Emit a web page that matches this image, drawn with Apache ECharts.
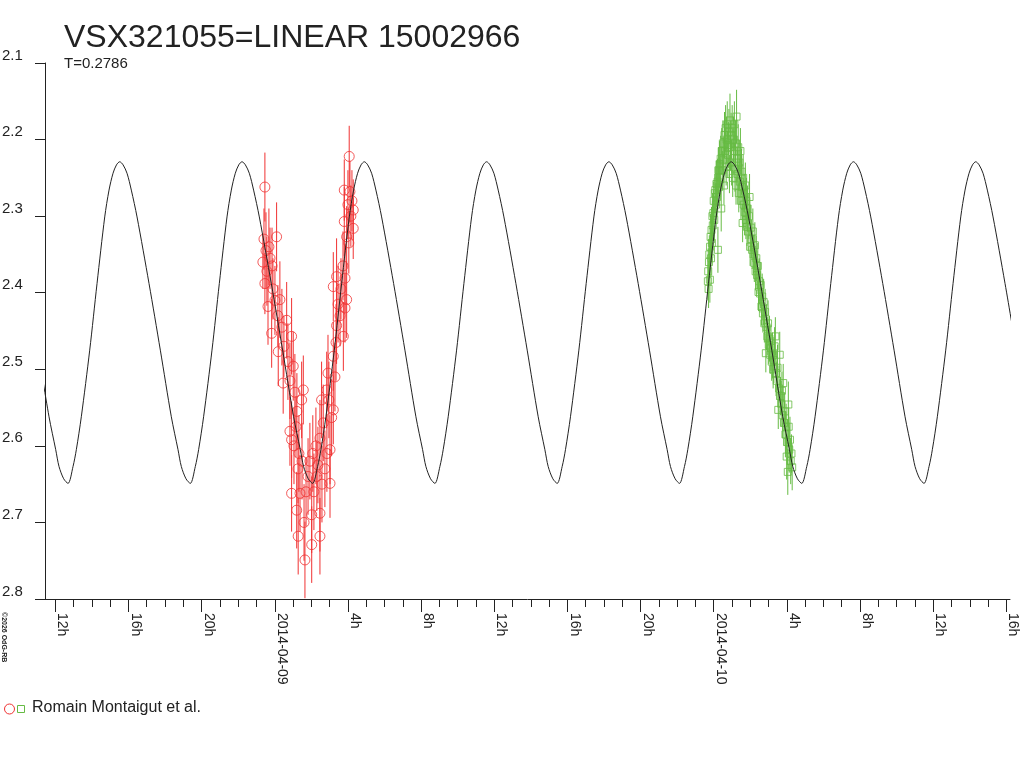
<!DOCTYPE html>
<html>
<head>
<meta charset="utf-8">
<script src="https://cdn.jsdelivr.net/npm/echarts@6/dist/echarts.min.js"></script>
<style>
  html, body { margin: 0; padding: 0; background: #fff; }
  #chart { width: 1024px; height: 768px; }
</style>
</head>
<body>
<div id="chart"></div>
<script>
// time is in hours from 2014-04-09 00:00
const titleText = 'VSX321055=LINEAR 15002966'
const periodText = 'T=0.2786'
const observer = 'Romain Montaigut et al.'

const majorTicks = [-12, -8, -4, 0, 4, 8, 12, 16, 20, 24, 28, 32, 36, 40]
const dateLabels = { 0: '2014-04-09', 24: '2014-04-10' }

// fitted light curve
const curveTime = [
  -12.944, -12.343, -11.977, -11.796, -11.541,
  -11.304, -11.031, -10.850, -10.577, -10.118, -9.718, -9.297, -9.062, -8.844, -8.654, -8.477,
  -8.294, -8.078, -7.843, -7.531, -6.875, -6.257, -5.656, -5.290, -5.109, -4.854,
  -4.618, -4.345, -4.164, -3.891, -3.432, -3.032, -2.611, -2.376, -2.158, -1.968, -1.791,
  -1.608, -1.392, -1.157, -0.845, -0.189, 0.429, 1.030, 1.396, 1.577, 1.832,
  2.069, 2.342, 2.523, 2.796, 3.255, 3.655, 4.076, 4.311, 4.529, 4.719, 4.896,
  5.079, 5.295, 5.530, 5.842, 6.498, 7.116, 7.717, 8.083, 8.264, 8.519,
  8.755, 9.028, 9.209, 9.482, 9.941, 10.341, 10.762, 10.997, 11.215, 11.405, 11.582,
  11.765, 11.981, 12.216, 12.528, 13.184, 13.802, 14.403, 14.769, 14.950, 15.205,
  15.441, 15.714, 15.895, 16.168, 16.627, 17.027, 17.448, 17.683, 17.901, 18.091, 18.268,
  18.451, 18.667, 18.902, 19.214, 19.870, 20.488, 21.089, 21.455, 21.636, 21.891,
  22.128, 22.401, 22.582, 22.855, 23.314, 23.714, 24.135, 24.370, 24.588, 24.778, 24.955,
  25.138, 25.354, 25.589, 25.901, 26.557, 27.175, 27.776, 28.142, 28.323, 28.578,
  28.814, 29.087, 29.268, 29.541, 30.000, 30.400, 30.821, 31.056, 31.274, 31.464, 31.641,
  31.824, 32.040, 32.275, 32.587, 33.243, 33.861, 34.462, 34.828, 35.009, 35.264,
  35.500, 35.773, 35.954, 36.227, 36.686, 37.086, 37.507, 37.742, 37.960, 38.150, 38.327,
  38.510, 38.726, 38.961, 39.273, 39.929, 40.547
]
const curveMag = [
  2.475, 2.562, 2.605, 2.627, 2.643,
  2.649, 2.627, 2.605, 2.562, 2.475, 2.388, 2.301, 2.266, 2.244, 2.233, 2.229,
  2.233, 2.244, 2.266, 2.301, 2.388, 2.475, 2.562, 2.605, 2.627, 2.643,
  2.649, 2.627, 2.605, 2.562, 2.475, 2.388, 2.301, 2.266, 2.244, 2.233, 2.229,
  2.233, 2.244, 2.266, 2.301, 2.388, 2.475, 2.562, 2.605, 2.627, 2.643,
  2.649, 2.627, 2.605, 2.562, 2.475, 2.388, 2.301, 2.266, 2.244, 2.233, 2.229,
  2.233, 2.244, 2.266, 2.301, 2.388, 2.475, 2.562, 2.605, 2.627, 2.643,
  2.649, 2.627, 2.605, 2.562, 2.475, 2.388, 2.301, 2.266, 2.244, 2.233, 2.229,
  2.233, 2.244, 2.266, 2.301, 2.388, 2.475, 2.562, 2.605, 2.627, 2.643,
  2.649, 2.627, 2.605, 2.562, 2.475, 2.388, 2.301, 2.266, 2.244, 2.233, 2.229,
  2.233, 2.244, 2.266, 2.301, 2.388, 2.475, 2.562, 2.605, 2.627, 2.643,
  2.649, 2.627, 2.605, 2.562, 2.475, 2.388, 2.301, 2.266, 2.244, 2.233, 2.229,
  2.233, 2.244, 2.266, 2.301, 2.388, 2.475, 2.562, 2.605, 2.627, 2.643,
  2.649, 2.627, 2.605, 2.562, 2.475, 2.388, 2.301, 2.266, 2.244, 2.233, 2.229,
  2.233, 2.244, 2.266, 2.301, 2.388, 2.475, 2.562, 2.605, 2.627, 2.643,
  2.649, 2.627, 2.605, 2.562, 2.475, 2.388, 2.301, 2.266, 2.244, 2.233, 2.229,
  2.233, 2.244, 2.266, 2.301, 2.388, 2.475
]

// night 1 (red circles): [hour, mag, error]
const redObs = [
  [-0.54, 2.262, 0.045], [-0.59, 2.330, 0.04], [-0.48, 2.345, 0.05], [-0.65, 2.360, 0.035],
  [-0.43, 2.372, 0.045], [-0.54, 2.388, 0.04], [-0.32, 2.340, 0.05], [-0.26, 2.355, 0.04],
  [-0.15, 2.365, 0.05], [0.10, 2.327, 0.045], [-0.37, 2.418, 0.05], [-0.10, 2.395, 0.04],
  [0.01, 2.410, 0.045], [0.28, 2.409, 0.05], [0.17, 2.430, 0.04], [-0.17, 2.453, 0.045],
  [0.39, 2.445, 0.05], [0.65, 2.436, 0.05], [0.50, 2.470, 0.04], [0.19, 2.477, 0.045],
  [0.92, 2.457, 0.05], [0.72, 2.490, 0.05], [1.01, 2.496, 0.045], [0.46, 2.518, 0.04],
  [0.83, 2.515, 0.05], [1.10, 2.530, 0.05], [1.56, 2.527, 0.045], [1.47, 2.540, 0.05],
  [1.21, 2.555, 0.05], [0.83, 2.581, 0.045], [0.92, 2.592, 0.05], [1.05, 2.600, 0.05],
  [1.16, 2.575, 0.04], [1.32, 2.610, 0.05], [1.27, 2.630, 0.045], [1.49, 2.620, 0.05],
  [0.92, 2.662, 0.05], [1.38, 2.662, 0.05], [1.20, 2.684, 0.05], [1.28, 2.718, 0.05],
  [1.65, 2.749, 0.05], [1.60, 2.700, 0.05], [1.71, 2.660, 0.045], [1.82, 2.640, 0.05],
  [1.92, 2.620, 0.05], [2.02, 2.729, 0.05], [2.47, 2.718, 0.05], [2.02, 2.690, 0.05],
  [2.47, 2.688, 0.05], [2.14, 2.660, 0.05], [2.30, 2.640, 0.045], [2.08, 2.610, 0.05],
  [2.25, 2.600, 0.05], [2.36, 2.625, 0.05], [2.58, 2.650, 0.05], [3.02, 2.649, 0.045],
  [2.74, 2.630, 0.05], [2.85, 2.610, 0.05], [3.02, 2.605, 0.045], [2.65, 2.570, 0.05],
  [2.47, 2.590, 0.05], [3.11, 2.563, 0.05], [3.20, 2.553, 0.045], [2.56, 2.540, 0.05],
  [2.84, 2.527, 0.05], [2.96, 2.540, 0.05], [3.29, 2.510, 0.045], [2.91, 2.505, 0.05],
  [3.20, 2.483, 0.045], [3.35, 2.465, 0.05], [3.75, 2.457, 0.045], [3.38, 2.443, 0.05],
  [3.57, 2.430, 0.04], [3.84, 2.420, 0.045], [3.93, 2.409, 0.05], [3.46, 2.415, 0.05],
  [3.20, 2.392, 0.045], [3.84, 2.381, 0.045], [3.38, 2.379, 0.05], [3.62, 2.395, 0.04],
  [3.73, 2.365, 0.045], [3.93, 2.327, 0.04], [3.80, 2.307, 0.045], [4.29, 2.316, 0.04],
  [4.05, 2.335, 0.04], [4.16, 2.300, 0.04], [4.29, 2.292, 0.04], [4.00, 2.285, 0.045],
  [3.80, 2.266, 0.04], [4.11, 2.268, 0.04], [4.22, 2.280, 0.04], [4.07, 2.222, 0.04]
]

// night 2 (green squares): [hour, mag, error]
const greenObs = [
  [23.68, 2.385, 0.025], [23.70, 2.372, 0.03], [23.72, 2.395, 0.025], [23.74, 2.360, 0.03],
  [23.76, 2.350, 0.025], [23.79, 2.383, 0.03], [23.80, 2.340, 0.025], [23.83, 2.327, 0.03],
  [23.85, 2.355, 0.025], [23.88, 2.318, 0.03], [23.90, 2.335, 0.025], [23.93, 2.300, 0.03],
  [23.95, 2.312, 0.025], [23.98, 2.296, 0.03], [24.00, 2.280, 0.025], [24.03, 2.305, 0.03],
  [24.06, 2.270, 0.025], [24.09, 2.266, 0.03], [24.12, 2.285, 0.025], [24.15, 2.258, 0.03],
  [24.18, 2.275, 0.025], [24.21, 2.255, 0.03], [24.23, 2.344, 0.03], [24.26, 2.240, 0.03],
  [24.29, 2.262, 0.025], [24.32, 2.232, 0.03], [24.35, 2.250, 0.025], [24.38, 2.225, 0.03],
  [24.41, 2.290, 0.03], [24.44, 2.215, 0.03], [24.47, 2.240, 0.025], [24.50, 2.205, 0.03],
  [24.53, 2.227, 0.03], [24.56, 2.260, 0.025], [24.59, 2.194, 0.03], [24.62, 2.215, 0.03],
  [24.65, 2.185, 0.03], [24.68, 2.235, 0.025], [24.71, 2.200, 0.03], [24.74, 2.180, 0.03],
  [24.77, 2.220, 0.03], [24.80, 2.207, 0.03], [24.83, 2.190, 0.03], [24.86, 2.245, 0.025],
  [24.89, 2.175, 0.035], [24.92, 2.210, 0.03], [24.95, 2.195, 0.03], [24.98, 2.230, 0.03],
  [25.01, 2.185, 0.03], [25.04, 2.250, 0.025], [25.07, 2.200, 0.03], [25.10, 2.215, 0.03],
  [25.13, 2.180, 0.03], [25.16, 2.238, 0.03], [25.19, 2.205, 0.03], [25.22, 2.260, 0.025],
  [25.25, 2.170, 0.035], [25.28, 2.225, 0.03], [25.31, 2.245, 0.03], [25.34, 2.210, 0.03],
  [25.37, 2.270, 0.025], [25.40, 2.230, 0.03], [25.43, 2.255, 0.03], [25.46, 2.215, 0.03],
  [25.49, 2.280, 0.025], [25.52, 2.242, 0.03], [25.55, 2.262, 0.03], [25.58, 2.309, 0.025],
  [25.61, 2.250, 0.03], [25.64, 2.285, 0.03], [25.67, 2.270, 0.025], [25.70, 2.295, 0.03],
  [25.73, 2.260, 0.03], [25.76, 2.305, 0.025], [25.79, 2.280, 0.03], [25.82, 2.314, 0.025],
  [25.85, 2.290, 0.03], [25.88, 2.320, 0.025], [25.92, 2.300, 0.03], [25.96, 2.275, 0.03],
  [25.99, 2.340, 0.025], [26.02, 2.315, 0.03], [26.06, 2.330, 0.025], [26.10, 2.344, 0.025],
  [26.14, 2.320, 0.03], [26.18, 2.350, 0.025], [26.22, 2.361, 0.025], [26.25, 2.338, 0.03],
  [26.29, 2.372, 0.025], [26.33, 2.355, 0.03], [26.37, 2.377, 0.025], [26.41, 2.365, 0.03],
  [26.45, 2.399, 0.025], [26.49, 2.385, 0.03], [26.53, 2.401, 0.025], [26.57, 2.390, 0.03],
  [26.61, 2.418, 0.025], [26.65, 2.405, 0.03], [26.69, 2.427, 0.025], [26.73, 2.412, 0.03],
  [26.77, 2.440, 0.025], [26.81, 2.425, 0.03], [26.85, 2.479, 0.025], [26.89, 2.445, 0.03],
  [26.93, 2.457, 0.025], [26.97, 2.440, 0.03], [27.01, 2.468, 0.025], [27.05, 2.460, 0.03],
  [27.09, 2.481, 0.025], [27.13, 2.472, 0.03], [27.17, 2.490, 0.025], [27.21, 2.482, 0.03],
  [27.25, 2.500, 0.025], [27.29, 2.488, 0.03], [27.33, 2.470, 0.025], [27.37, 2.457, 0.025],
  [27.41, 2.505, 0.03], [27.45, 2.515, 0.025], [27.49, 2.498, 0.03], [27.53, 2.553, 0.025],
  [27.57, 2.525, 0.03], [27.61, 2.481, 0.03], [27.65, 2.535, 0.025], [27.69, 2.545, 0.03],
  [27.73, 2.528, 0.025], [27.77, 2.560, 0.03], [27.80, 2.518, 0.025], [27.84, 2.570, 0.03],
  [27.88, 2.555, 0.025], [27.92, 2.585, 0.03], [27.96, 2.575, 0.03], [27.99, 2.614, 0.03],
  [28.02, 2.595, 0.03], [28.05, 2.634, 0.03], [28.08, 2.546, 0.03], [28.10, 2.575, 0.025],
  [28.13, 2.605, 0.03], [28.17, 2.592, 0.03], [28.21, 2.620, 0.03], [28.25, 2.610, 0.025],
  [28.29, 2.628, 0.03]
]

const RED = '#f03232'
const GREEN = '#66bb44'
const INK = '#222'
const FONT = '"Liberation Sans", Arial, sans-serif'

const minorTicks = []
for (let h = majorTicks[0]; h <= majorTicks[majorTicks.length - 1]; h++) minorTicks.push(h)

function hourLabel (v) {
  if (dateLabels[v]) return dateLabels[v]
  return (((v % 24) + 24) % 24) + 'h'
}

function errorBars (color) {
  return function (params, api) {
    const x = api.value(0)
    const y = api.value(1)
    const e = api.value(2)
    const a = api.coord([x, y - e])
    const b = api.coord([x, y + e])
    return {
      type: 'line',
      shape: { x1: a[0], y1: a[1], x2: b[0], y2: b[1] },
      style: { stroke: color, lineWidth: 1 }
    }
  }
}

const xMin = -12.563
const xMax = 40.2

const chart = echarts.init(document.getElementById('chart'), null, { renderer: 'canvas' })

const option = {
  animation: false,
  backgroundColor: '#fff',
  textStyle: { fontFamily: FONT },
  title: {
    text: titleText,
    subtext: periodText,
    left: 59,
    top: 17,
    itemGap: 2,
    textStyle: { fontSize: 32, fontWeight: 'normal', color: INK, fontFamily: FONT },
    subtextStyle: { fontSize: 15, color: INK, fontFamily: FONT }
  },
  grid: { left: 45, right: 14, top: 63, bottom: 169, containLabel: false, outerBoundsMode: 'none' },
  xAxis: [
    {
      type: 'value',
      min: xMin,
      max: xMax,
      axisLine: { show: true, onZero: false, lineStyle: { color: INK } },
      axisTick: { show: true, length: 8, customValues: minorTicks, lineStyle: { color: INK } },
      axisLabel: { show: false },
      splitLine: { show: false }
    },
    {
      type: 'value',
      position: 'bottom',
      min: xMin,
      max: xMax,
      axisLine: { show: false, onZero: false },
      axisTick: { show: true, length: 13, customValues: majorTicks, lineStyle: { color: INK } },
      axisLabel: {
        show: true,
        customValues: majorTicks,
        rotate: -90,
        margin: 14,
        verticalAlign: 'bottom',
        color: INK,
        fontSize: 14,
        fontFamily: FONT,
        formatter: hourLabel
      },
      splitLine: { show: false }
    }
  ],
  yAxis: {
    type: 'value',
    inverse: true,
    min: 2.1,
    max: 2.8,
    interval: 0.1,
    axisLine: { show: true, onZero: false, lineStyle: { color: INK } },
    axisTick: { show: true, length: 10, lineStyle: { color: INK } },
    axisLabel: {
      margin: 43,
      align: 'left',
      verticalAlign: 'bottom',
      color: INK,
      fontSize: 15,
      fontFamily: FONT,
      formatter: v => v.toFixed(1)
    },
    splitLine: { show: false }
  },
  series: [
    {
      type: 'custom',
      name: 'redErr',
      renderItem: errorBars(RED),
      encode: { x: 0, y: 1 },
      data: redObs,
      clip: true,
      z: 2
    },
    {
      type: 'scatter',
      name: 'red',
      symbol: 'circle',
      symbolSize: 10,
      itemStyle: { color: 'rgba(0,0,0,0)', borderColor: RED, borderWidth: 1 },
      data: redObs.map(d => [d[0], d[1]]),
      z: 3
    },
    {
      type: 'custom',
      name: 'greenErr',
      renderItem: errorBars(GREEN),
      encode: { x: 0, y: 1 },
      data: greenObs,
      clip: true,
      z: 2
    },
    {
      type: 'scatter',
      name: 'green',
      symbol: 'rect',
      symbolSize: 7,
      itemStyle: { color: 'rgba(0,0,0,0)', borderColor: GREEN, borderWidth: 1 },
      data: greenObs.map(d => [d[0], d[1]]),
      z: 3
    },
    {
      type: 'line',
      name: 'fit',
      data: curveTime.map((t, i) => [t, curveMag[i]]),
      smooth: 0.3,
      showSymbol: false,
      clip: true,
      lineStyle: { color: INK, width: 1 },
      z: 5
    }
  ],
  graphic: [
    {
      type: 'circle',
      shape: { cx: 9.5, cy: 709, r: 5 },
      style: { fill: 'none', stroke: RED, lineWidth: 1 }
    },
    {
      type: 'rect',
      shape: { x: 17.5, y: 705.5, width: 7, height: 7 },
      style: { fill: 'none', stroke: GREEN, lineWidth: 1 }
    },
    {
      type: 'text',
      left: 32,
      top: 700,
      style: { text: observer, fill: INK, font: '16px ' + FONT }
    },
    {
      type: 'text',
      x: 0,
      y: 612,
      rotation: -Math.PI / 2,
      style: {
        text: '\u00a92026 OdG-RB',
        fill: INK,
        font: 'bold 7px ' + FONT,
        align: 'left',
        verticalAlign: 'bottom'
      }
    }
  ]
}

chart.setOption(option)
</script>
</body>
</html>
